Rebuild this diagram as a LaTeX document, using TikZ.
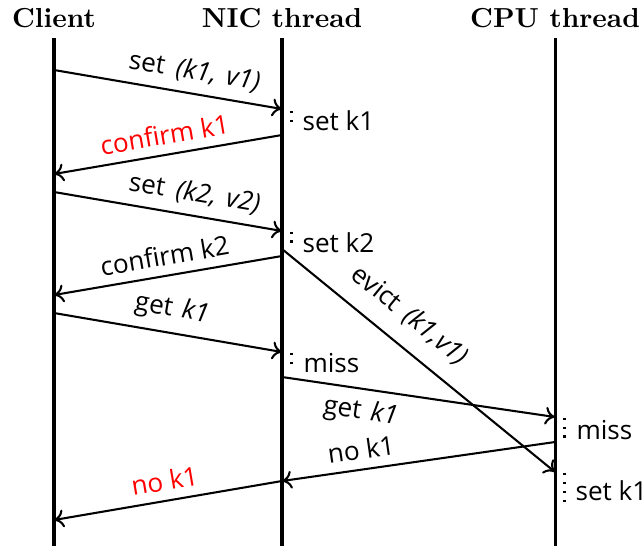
\documentclass[tikz,border=0pt]{standalone}
\usepackage{fontspec}
\newfontfamily\lblfont{Open Sans}
\usetikzlibrary{arrows.meta}
\begin{document}
\begin{tikzpicture}[x=0.36364pt,y=-0.36364pt,
  hdr/.style={font=\bfseries, anchor=base, inner sep=0pt},
  life/.style={line width=1.1pt},
  msg/.style={line width=0.75pt, -{To[length=3.6pt,width=6.5pt]}},
  lbl/.style={font={\lblfont\fontsize{9.5pt}{11pt}\selectfont}, sloped},
  note/.style={font={\lblfont\fontsize{9.5pt}{11pt}\selectfont}, anchor=base west, inner sep=0pt},
  dotline/.style={line width=0.85pt, dash pattern=on 0.85pt off 2.42pt},
  hot/.style={text=red},
]
\useasboundingbox (0,0) rectangle (644,546);
% headers
\node[hdr] (hc) at (54,27) {Client};
\node[hdr] (hn) at (282,27) {NIC thread};
\node[hdr] (hp) at (555,27) {CPU thread};
% lifelines
\coordinate (ct) at (54,38);  \coordinate (cb) at (54,546);
\coordinate (nt) at (282,38); \coordinate (nb) at (282,546);
\coordinate (pt) at (555,38); \coordinate (pb) at (555,546);
\draw[life] (ct) -- (cb);
\draw[life] (nt) -- (nb);
\draw[life] (pt) -- (pb);
% message end points
\coordinate (c1) at (54,70);   \coordinate (n1) at (282,109);
\coordinate (n2) at (282,135); \coordinate (c2) at (54,174);
\coordinate (c3) at (54,192);  \coordinate (n3) at (282,231);
\coordinate (n4) at (282,256); \coordinate (c4) at (54,295);
\coordinate (n5) at (282,249); \coordinate (p5) at (555,472);
\coordinate (c6) at (54,313);  \coordinate (n6) at (282,352);
\coordinate (n7) at (282,377); \coordinate (p7) at (555,417);
\coordinate (p8) at (555,442); \coordinate (n8) at (282,481);
\coordinate (c9) at (54,520);
% messages
\draw[msg] (c1) -- node[lbl, above, pos=0.6] (l1) {set\hspace{0.18em} \textit{(k1,\hspace{0.12em} v1)}} (n1);
\draw[msg] (n2) -- node[lbl, above, pos=0.5, hot] (l2) {confirm k1} (c2);
\draw[msg] (c3) -- node[lbl, above, pos=0.6] (l3) {set\hspace{0.18em} \textit{(k2,\hspace{0.12em} v2)}} (n3);
\draw[msg] (n4) -- node[lbl, above, pos=0.5] (l4) {confirm k2} (c4);
\draw[msg] (n5) -- node[lbl, above=2.5pt, pos=0.4] (l5) {evict\hspace{0.15em} \textit{(k1,v1)}} (p5);
\draw[msg] (c6) -- node[lbl, above, pos=0.5] (l6) {get\hspace{0.1em} \textit{k1}} (n6);
\draw[msg] (n7) -- node[lbl, below, pos=0.3] (l7) {get\hspace{0.1em} \textit{k1}} (p7);
\draw[msg] (p8) -- node[lbl, above, pos=0.7] (l8) {no k1} (n8);
\draw[msg] (n8) -- node[lbl, above, pos=0.5, hot] (l9) {no k1} (c9);
% processing marks
\draw[dotline] (291.5,111) -- (291.5,122.5);
\draw[dotline] (291.5,231.5) -- (291.5,243);
\draw[dotline] (291.5,352.5) -- (291.5,364);
\draw[dotline] (564.5,417.5) -- (564.5,438);
\draw[dotline] (564.5,473) -- (564.5,503);
\node[note] (t1) at (302,130) {set k1};
\node[note] (t2) at (302,252) {set k2};
\node[note] (t3) at (303,372) {miss};
\node[note] (t4) at (576,439) {miss};
\node[note] (t5) at (575,500) {set k1};
\end{tikzpicture}
\end{document}
